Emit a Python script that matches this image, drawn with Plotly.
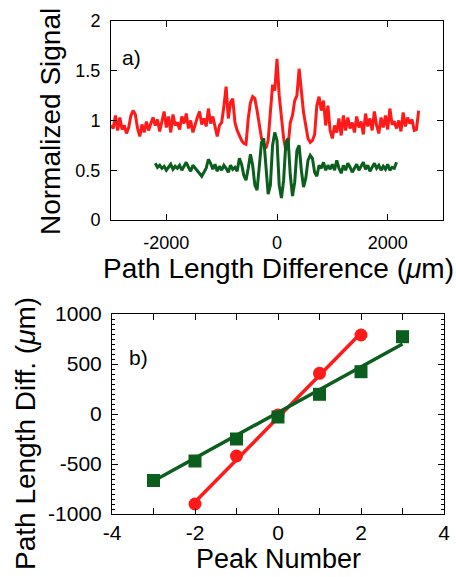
import plotly.graph_objects as go

# =============================================================================
# Data
# =============================================================================

# (a) interferometer scans, 40 um sampling
red_scan_x = [
    -3000, -2960, -2920, -2880, -2840, -2800, -2760, -2720, -2680, -2640,
    -2600, -2560, -2520, -2480, -2440, -2400, -2360, -2320, -2280, -2240,
    -2200, -2160, -2120, -2080, -2040, -2000, -1960, -1920, -1880, -1840,
    -1800, -1760, -1720, -1680, -1640, -1600, -1560, -1520, -1480, -1440,
    -1400, -1360, -1320, -1280, -1240, -1200, -1160, -1120, -1080, -1040,
    -1000, -960, -920, -880, -840, -800, -760, -720, -680, -640,
    -600, -560, -520, -480, -440, -400, -360, -320, -280, -240,
    -200, -160, -120, -80, -40, 0, 40, 80, 120, 160,
    200, 240, 280, 320, 360, 400, 440, 480, 520, 560,
    600, 640, 680, 720, 760, 800, 840, 880, 920, 960,
    1000, 1040, 1080, 1120, 1160, 1200, 1240, 1280, 1320, 1360,
    1400, 1440, 1480, 1520, 1560, 1600, 1640, 1680, 1720, 1760,
    1800, 1840, 1880, 1920, 1960, 2000, 2040, 2080, 2120, 2160,
    2200, 2240, 2280, 2320, 2360, 2400, 2440, 2480, 2520, 2560,
]
red_scan_y = [
    0.95, 0.92, 1.05, 0.90, 1.03, 0.91, 0.95, 0.87, 0.93, 1.05,
    1.10, 1.06, 0.92, 0.84, 0.96, 0.88, 0.99, 0.90, 0.97, 1.03,
    0.95, 1.01, 0.89, 0.98, 1.09, 0.93, 1.04, 0.88, 1.06, 0.95,
    0.98, 0.91, 1.04, 0.97, 1.07, 0.92, 1.00, 0.88, 0.96, 1.03,
    1.09, 0.96, 1.02, 0.94, 1.12, 0.97, 1.04, 0.93, 0.84, 0.95,
    0.98, 1.14, 1.34, 1.02, 1.18, 1.22, 0.98, 0.90, 0.84, 0.80,
    0.77, 0.76, 1.02, 1.18, 1.24, 1.22, 1.10, 0.95, 0.82, 0.76,
    0.72, 0.80, 1.10, 1.36, 1.30, 1.62, 1.25, 1.00, 0.82, 0.70,
    0.74, 0.98, 1.05, 1.20, 1.25, 1.52, 1.30, 1.08, 0.95, 0.82,
    0.78, 0.80, 0.86, 1.15, 1.24, 1.10, 1.20, 0.95, 1.15, 0.90,
    0.82, 0.95, 0.88, 1.02, 0.85, 1.05, 0.90, 1.03, 0.92, 0.98,
    0.88, 1.04, 0.93, 0.99, 0.86, 1.07, 0.94, 1.02, 0.90, 1.09,
    0.95, 0.87, 1.03, 0.93, 1.05, 0.91, 1.12, 0.96, 0.99, 0.92,
    1.00, 0.89, 1.08, 0.94, 1.03, 0.97, 1.01, 0.90, 0.91, 1.10,
]

green_scan_x = [
    -2200, -2160, -2120, -2080, -2040, -2000, -1960, -1920, -1880, -1840,
    -1800, -1760, -1720, -1680, -1640, -1600, -1560, -1520, -1480, -1440,
    -1400, -1360, -1320, -1280, -1240, -1200, -1160, -1120, -1080, -1040,
    -1000, -960, -920, -880, -840, -800, -760, -720, -680, -640,
    -600, -560, -520, -480, -440, -400, -360, -320, -280, -240,
    -200, -160, -120, -80, -40, 0, 40, 80, 120, 160,
    200, 240, 280, 320, 360, 400, 440, 480, 520, 560,
    600, 640, 680, 720, 760, 800, 840, 880, 920, 960,
    1000, 1040, 1080, 1120, 1160, 1200, 1240, 1280, 1320, 1360,
    1400, 1440, 1480, 1520, 1560, 1600, 1640, 1680, 1720, 1760,
    1800, 1840, 1880, 1920, 1960, 2000, 2040, 2080, 2120, 2160,
]
green_scan_y = [
    0.57, 0.53, 0.55, 0.52, 0.54, 0.50, 0.53, 0.56, 0.51, 0.54,
    0.52, 0.55, 0.50, 0.54, 0.58, 0.53, 0.49, 0.55, 0.52, 0.50,
    0.47, 0.44, 0.48, 0.52, 0.61, 0.57, 0.51, 0.56, 0.49, 0.54,
    0.50, 0.55, 0.52, 0.48, 0.55, 0.51, 0.53, 0.49, 0.62, 0.56,
    0.45, 0.40, 0.52, 0.66, 0.55, 0.35, 0.30, 0.55, 0.78, 0.82,
    0.55, 0.26, 0.35, 0.75, 0.88, 0.80, 0.35, 0.22, 0.40, 0.78,
    0.82, 0.45, 0.24, 0.38, 0.70, 0.75, 0.50, 0.33, 0.42, 0.60,
    0.65, 0.62, 0.48, 0.44, 0.55, 0.52, 0.58, 0.50, 0.55, 0.51,
    0.56, 0.50, 0.60, 0.52, 0.47, 0.55, 0.50, 0.57, 0.53, 0.48,
    0.52, 0.56, 0.50, 0.54, 0.58, 0.51, 0.55, 0.49, 0.53, 0.57,
    0.52, 0.55, 0.50, 0.54, 0.51, 0.56, 0.50, 0.53, 0.52, 0.58,
]

# (b) peak positions and linear fits
red_peak_n = [-2, -1, 0, 1, 2]
red_peak_pos = [-900, -420, -10, 407, 790]
red_fit_n = [-2, 2]
red_fit_pos = [-880, 810]

green_peak_n = [-3, -2, -1, 0, 1, 2, 3]
green_peak_pos = [-665, -470, -250, -30, 197, 423, 773]
green_fit_n = [-3, 3]
green_fit_pos = [-670, 700]

# tick labels
top_x_ticks = [-2000, 0, 2000]
top_x_text = ["-2000", "0", "2000"]
top_y_ticks = [0, 0.5, 1, 1.5, 2]
top_y_text = ["0", "0.5", "1", "1.5", "2"]
bot_x_ticks = [-4, -3, -2, -1, 0, 1, 2, 3, 4]
bot_x_text = ["-4", "", "-2", "", "0", "", "2", "", "4"]
bot_y_ticks = [-1000, -500, 0, 500, 1000]
bot_y_text = ["-1000", "-500", "0", "500", "1000"]

# =============================================================================
# Chart
# =============================================================================

W, H = 456, 577
RED = "#ff1a1a"
GREEN = "#0b5e1d"
FONT = "Liberation Sans, Arial, sans-serif"


def px_x(p):
    return p / W


def px_y(p):
    return 1 - p / H


fig = go.Figure()

fig.add_trace(
    go.Scatter(
        x=red_scan_x, y=red_scan_y, mode="lines",
        line=dict(color=RED, width=3), xaxis="x", yaxis="y",
    )
)
fig.add_trace(
    go.Scatter(
        x=green_scan_x, y=green_scan_y, mode="lines",
        line=dict(color=GREEN, width=3), xaxis="x", yaxis="y",
    )
)

fig.add_trace(
    go.Scatter(
        x=red_fit_n, y=red_fit_pos, mode="lines",
        line=dict(color=RED, width=3.5), xaxis="x2", yaxis="y2",
    )
)
fig.add_trace(
    go.Scatter(
        x=red_peak_n, y=red_peak_pos, mode="markers",
        marker=dict(color=RED, size=13, symbol="circle"), xaxis="x2", yaxis="y2",
    )
)
fig.add_trace(
    go.Scatter(
        x=green_fit_n, y=green_fit_pos, mode="lines",
        line=dict(color=GREEN, width=3.5), xaxis="x2", yaxis="y2",
    )
)
fig.add_trace(
    go.Scatter(
        x=green_peak_n, y=green_peak_pos, mode="markers",
        marker=dict(color=GREEN, size=13, symbol="square"), xaxis="x2", yaxis="y2",
    )
)

axis_common = dict(
    showline=True, linecolor="black", linewidth=1, mirror="ticks",
    ticks="inside", tickcolor="black", tickwidth=1,
    showgrid=False, zeroline=False, fixedrange=True, automargin=False,
)

fig.update_layout(
    template="none",
    width=W,
    height=H,
    autosize=False,
    margin=dict(l=0, r=0, t=0, b=0, pad=0),
    paper_bgcolor="white",
    plot_bgcolor="white",
    showlegend=False,
    font=dict(family=FONT, color="black"),
    xaxis=dict(
        axis_common, domain=[px_x(111), px_x(443)], range=[-3000, 3000],
        tickvals=top_x_ticks, ticktext=top_x_text, ticklen=6,
        tickfont=dict(size=18), ticklabelstandoff=6, anchor="y",
    ),
    yaxis=dict(
        axis_common, domain=[px_y(220), px_y(21)], range=[0, 2],
        tickvals=top_y_ticks, ticktext=top_y_text, ticklen=6,
        tickfont=dict(size=18), ticklabelstandoff=6, anchor="x",
    ),
    xaxis2=dict(
        axis_common, domain=[px_x(112), px_x(444)], range=[-4, 4],
        tickvals=bot_x_ticks, ticktext=bot_x_text, ticklen=6,
        tickfont=dict(size=21), ticklabelstandoff=0, anchor="y2",
    ),
    yaxis2=dict(
        axis_common, domain=[px_y(514), px_y(314)], range=[-1000, 1000],
        tickvals=bot_y_ticks, ticktext=bot_y_text, ticklen=6,
        tickfont=dict(size=21), ticklabelstandoff=5, anchor="x2",
        minor=dict(dtick=50, ticks="inside", ticklen=3, tickcolor="black"),
    ),
)

titles = [
    ("Normalized Signal", 50, 122, -90, 28),
    ("Path Length Difference (<i>μ</i>m)", 278, 268, 0, 28),
    ("Path Length Diff. (<i>μ</i>m)", 25, 434, -90, 28),
    ("Peak Number", 278, 559, 0, 27),
]
for text, x, y, angle, size in titles:
    fig.add_annotation(
        text=text, x=px_x(x), y=px_y(y), xref="paper", yref="paper",
        xanchor="center", yanchor="middle", textangle=angle, showarrow=False,
        font=dict(size=size),
    )

for text, x, y in [("a)", 120, 57), ("b)", 127, 357)]:
    fig.add_annotation(
        text=text, x=px_x(x), y=px_y(y), xref="paper", yref="paper",
        xanchor="left", yanchor="middle", showarrow=False,
        font=dict(size=21),
    )

# page without the default body margin, so the figure fills the window
fig.write_html(
    "out.html",
    config={"displayModeBar": False},
    post_script="document.body.style.margin='0';document.body.style.overflow='hidden';",
)
